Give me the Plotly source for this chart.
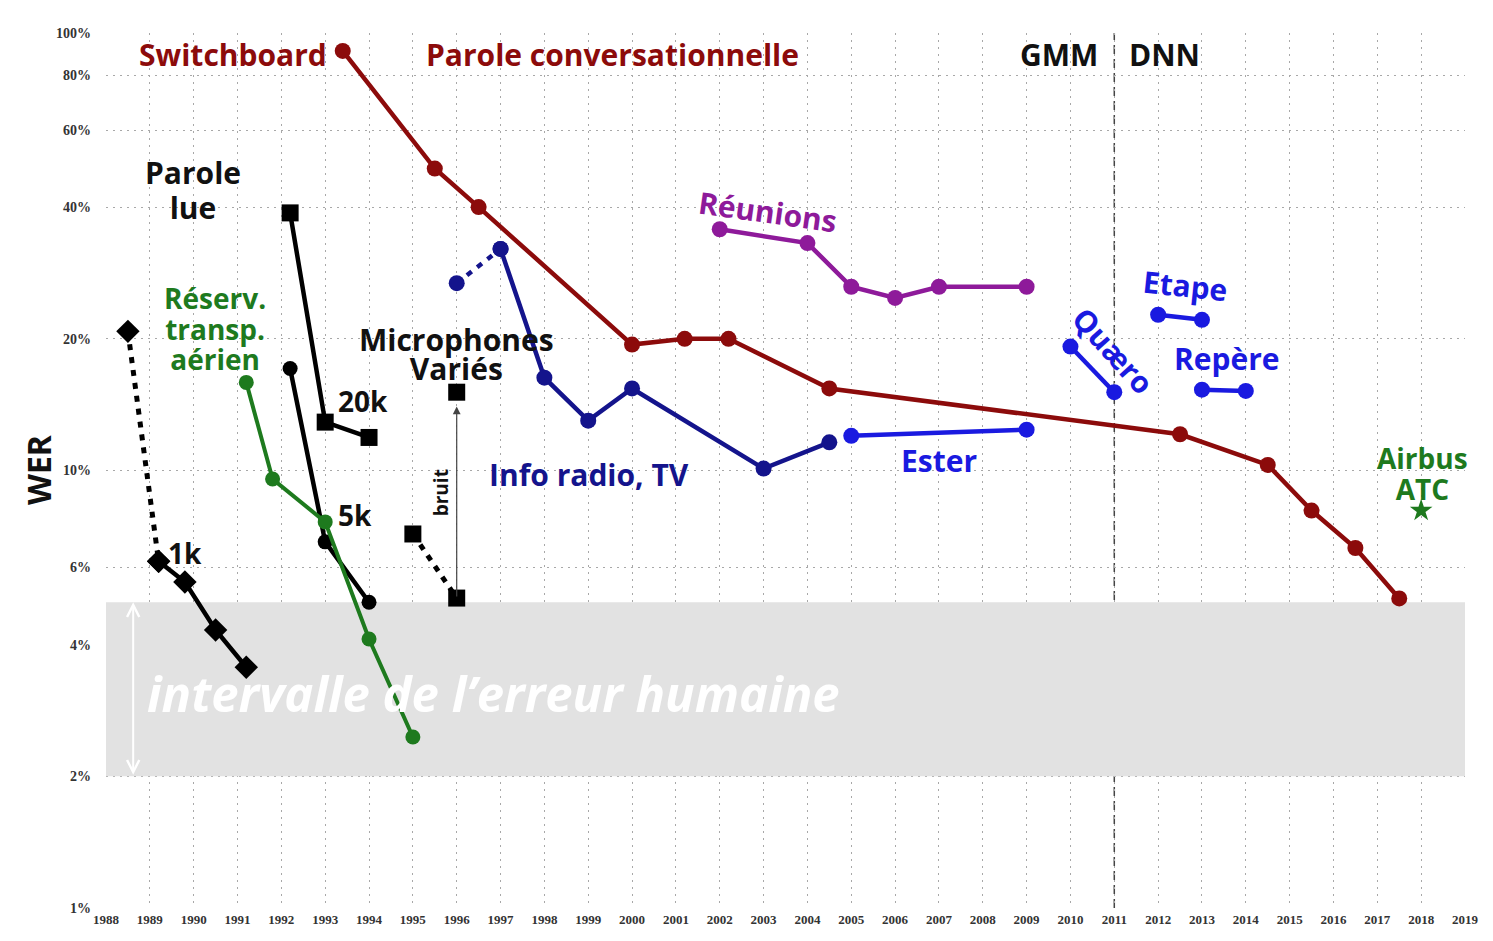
import plotly.graph_objects as go
import math

# ---------------- data ----------------
sw_years = [1993.4, 1995.5, 1996.5, 2000.0, 2001.2, 2002.2, 2004.5, 2012.5, 2014.5, 2015.5, 2016.5, 2017.5]
sw_wer = [91, 49, 40, 19.4, 20, 20, 15.4, 12.1, 10.3, 8.1, 6.65, 5.1]

reu_years = [2002.0, 2004.0, 2005.0, 2006.0, 2007.0, 2009.0]
reu_wer = [35.6, 33.1, 26.3, 24.8, 26.3, 26.3]

radio_dash_years = [1996.0, 1997.0]
radio_dash_wer = [26.8, 32.1]
radio_years = [1997.0, 1998.0, 1999.0, 2000.0, 2003.0, 2004.5]
radio_wer = [32.1, 16.3, 13.0, 15.4, 10.1, 11.6]

ester_years = [2005.0, 2009.0]
ester_wer = [12.0, 12.4]
quaero_years = [2010.0, 2011.0]
quaero_wer = [19.2, 15.1]
etape_years = [2012.0, 2013.0]
etape_wer = [22.7, 22.1]
repere_years = [2013.0, 2014.0]
repere_wer = [15.3, 15.2]
airbus_years = [2018.0]
airbus_wer = [8.1]

lue20k_years = [1992.2, 1993.0, 1994.0]
lue20k_wer = [38.8, 12.9, 11.9]
lue5k_years = [1992.2, 1993.0, 1994.0]
lue5k_wer = [17.1, 6.87, 5.0]
lue1k_dash_years = [1988.5, 1989.2]
lue1k_dash_wer = [20.8, 6.2]
lue1k_years = [1989.2, 1989.8, 1990.5, 1991.2]
lue1k_wer = [6.2, 5.56, 4.32, 3.55]

atis_years = [1991.2, 1991.8, 1993.0, 1994.0, 1995.0]
atis_wer = [15.9, 9.56, 7.63, 4.12, 2.46]

micro_dash_years = [1995.0, 1996.0]
micro_dash_wer = [7.16, 5.11]
micro_noise_years = [1996.0]
micro_noise_wer = [15.1]

human_range = [2, 5]
gmm_dnn_year = 2011

x_ticks = list(range(1988, 2020))
y_ticks = [1, 2, 4, 6, 10, 20, 40, 60, 80, 100]
y_ticktext = ["1%", "2%", "4%", "6%", "10%", "20%", "40%", "60%", "80%", "100%"]

# ---------------- style ----------------
RED = "#8c0b0b"
PURPLE = "#8e1a9a"
NAVY = "#14148c"
BLUE = "#1a1ae0"
GREEN = "#1e7a1e"
BLACK = "#000000"
LABEL_FONT = "Open Sans"
PLOT_W = 1359
PLOT_H = 875

fig = go.Figure()


def add(xs, ys, color, symbol="circle", size=16, width=4.5, dash="solid", mode="lines+markers"):
    fig.add_trace(go.Scatter(
        x=xs, y=ys, mode=mode,
        line=dict(color=color, width=width, dash=dash),
        marker=dict(color=color, size=size, symbol=symbol),
        showlegend=False, hoverinfo="skip"))


# dashed segments first
add(lue1k_dash_years, lue1k_dash_wer, BLACK, symbol="diamond", size=18, width=5, dash="6px,7px")
add(micro_dash_years, micro_dash_wer, BLACK, symbol="square", size=17, width=5, dash="6px,7px")
add(radio_dash_years, radio_dash_wer, NAVY, size=16, width=4.5, dash="6px,7px")

add(lue1k_years, lue1k_wer, BLACK, symbol="diamond", size=18, width=4.5)
add(lue20k_years, lue20k_wer, BLACK, symbol="square", size=17, width=4.5)
add(lue5k_years, lue5k_wer, BLACK, size=15, width=4.5)
add(atis_years, atis_wer, GREEN, size=15, width=4)
add(micro_noise_years, micro_noise_wer, BLACK, symbol="square", size=17, mode="markers")

add(sw_years, sw_wer, RED)
add(reu_years, reu_wer, PURPLE)
add(radio_years, radio_wer, NAVY)
add(ester_years, ester_wer, BLUE)
add(quaero_years, quaero_wer, BLUE)
add(etape_years, etape_wer, BLUE)
add(repere_years, repere_wer, BLUE)
add(airbus_years, airbus_wer, GREEN, symbol="star", size=17, mode="markers")

# human error band
fig.add_shape(type="rect", xref="x", yref="y", x0=1988, x1=2019,
              y0=human_range[0], y1=human_range[1],
              fillcolor="#e2e2e2", line=dict(width=0), layer="between")

# GMM | DNN divider
fig.add_shape(type="line", xref="x", yref="paper", x0=gmm_dnn_year, x1=gmm_dnn_year,
              y0=0, y1=1, line=dict(color="#444444", width=1.5, dash="9px,5px"), layer="between")

L = math.log10


def label(text, x, y, color, size=30, angle=0, italic=False):
    fig.add_annotation(x=x, y=y, xref="x", yref="y", text=text, showarrow=False,
                       textangle=angle, xanchor="center", yanchor="middle",
                       font=dict(family=LABEL_FONT, size=size, color=color,
                                 weight="bold", style="italic" if italic else "normal"))


def stacked(lines, x, y, color, glyph_size, base_size):
    # multi-line label: line spacing follows base_size, glyphs drawn at glyph_size
    text = "<br>".join(f'<span style="font-size:{glyph_size}px">{t}</span>' for t in lines)
    label(text, x, y, color, size=base_size)


label("Switchboard", 1990.9, 1.95, RED)
label("Parole conversationnelle", 1999.56, 1.95, RED)
label("GMM", 2009.75, 1.95, "#111111")
label("DNN", 2012.15, 1.95, "#111111")
stacked(["Parole", "lue"], 1989.99, 1.642, "#111111", 30, 27)
stacked(["Réserv.", "transp.", "aérien"], 1990.49, 1.3246, GREEN, 28, 23.5)
stacked(["Microphones", "Variés"], 1996.0, 1.266, "#111111", 30, 22)
label("20k", 1993.87, 1.159, "#111111", size=28)
label("5k", 1993.69, 0.898, "#111111", size=28)
label("1k", 1989.8, 0.811, "#111111", size=28)
label("bruit", 1995.63, 0.949, "#111111", size=19, angle=-90)
label("Info radio, TV", 1999.01, 0.992, NAVY)
label("Réunions", 2003.1, 1.591, PURPLE, angle=8)
label("Ester", 2007.0, 1.024, BLUE)
label("Quæro", 2010.98, 1.275, BLUE, angle=48)
label("Etape", 2012.63, 1.424, BLUE, angle=6)
label("Repère", 2013.57, 1.255, BLUE)
stacked(["Airbus", "ATC"], 2018.02, 0.993, GREEN, 28, 24)
label("intervalle de l’erreur humaine", 1996.84, 0.491, "#ffffff", size=49, italic=True)

# white double arrow in band
fig.add_annotation(x=1988.62, y=L(human_range[1]), ax=1988.62, ay=L(human_range[0]),
                   xref="x", yref="y", axref="x", ayref="y", text="", showarrow=True,
                   arrowhead=5, startarrowhead=5, arrowside="end+start",
                   arrowcolor="#ffffff", arrowwidth=2, arrowsize=1.2, startarrowsize=1.2)

# noise arrow
fig.add_annotation(x=1996.0, y=L(14.0), ax=1996.0, ay=L(micro_dash_wer[1]),
                   xref="x", yref="y", axref="x", ayref="y", text="", showarrow=True,
                   arrowhead=2, arrowcolor="#444444", arrowwidth=1.2, arrowsize=1.3)

# WER axis title
fig.add_annotation(x=-68 / PLOT_W, y=438 / PLOT_H, xref="paper", yref="paper", text="WER",
                   showarrow=False, textangle=-90, xanchor="center", yanchor="middle",
                   font=dict(family=LABEL_FONT, size=32, color="#111111", weight="bold"))

grid = dict(showgrid=True, gridcolor="#a8a8a8", gridwidth=1.2, griddash="2px,5px",
            zeroline=False, showline=False)

fig.update_xaxes(range=[1988, 2019], tickvals=x_ticks, ticktext=[str(t) for t in x_ticks],
                 tickfont=dict(family="Liberation Serif", size=13, color="#333333", weight="bold"),
                 ticks="", ticklabelstandoff=2, **grid)
fig.update_yaxes(type="log", range=[0, 2], tickvals=y_ticks, ticktext=y_ticktext,
                 tickfont=dict(family="Liberation Serif", size=14, color="#333333", weight="bold"),
                 ticks="", ticklabelstandoff=14, **grid)

# page body adds an 8px margin, so the figure is sized to fit the window
fig.update_layout(width=1485, height=933, margin=dict(l=98, r=28, t=25, b=33),
                  plot_bgcolor="#ffffff", paper_bgcolor="#ffffff")

fig.write_html("out.html")
